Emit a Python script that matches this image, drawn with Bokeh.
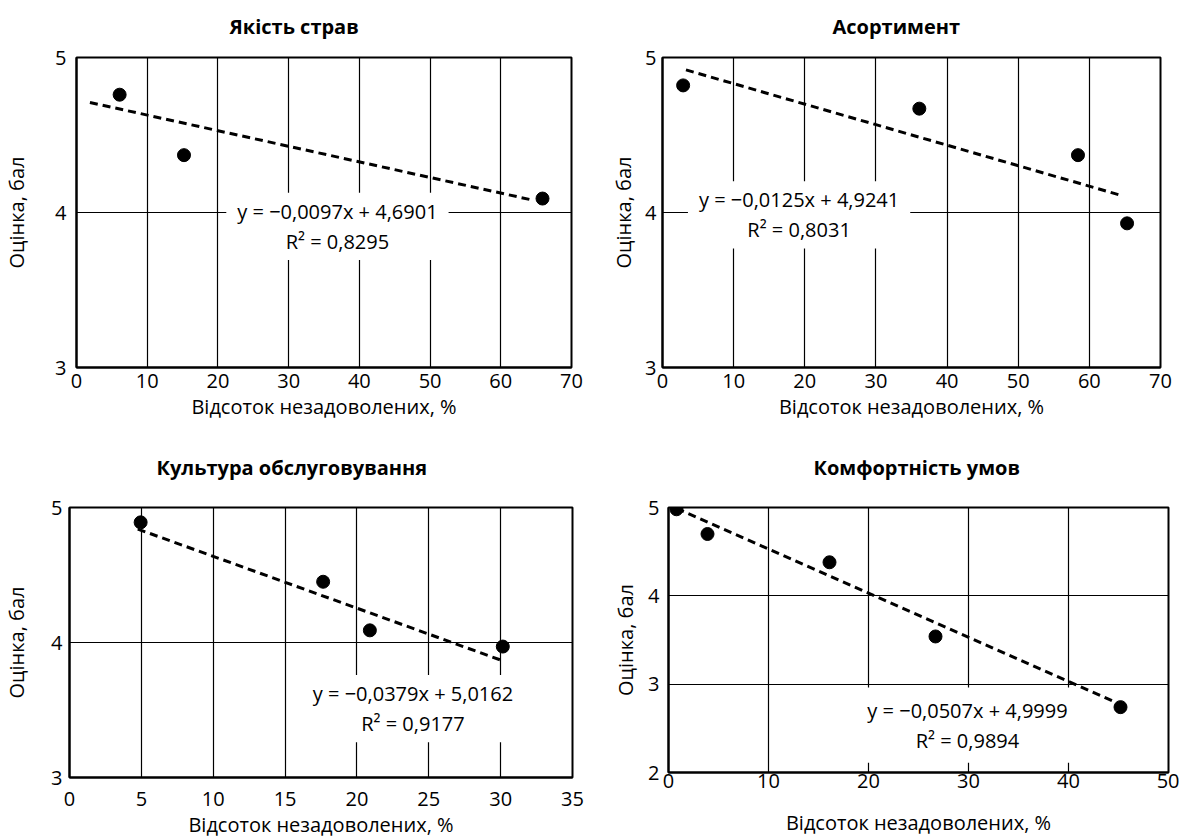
from bokeh.plotting import figure
from bokeh.layouts import row, column
from bokeh.models import Label, Range1d, FixedTicker
from bokeh.embed import file_html
from bokeh.resources import INLINE

FONT = "Open Sans"
x_label = "Відсоток незадоволених, %"
y_label = "Оцінка, бал"

titles = ["Якість страв", "Асортимент", "Культура обслуговування", "Комфортність умов"]

# Якість страв
q_x = [6.1, 15.2, 65.9]
q_y = [4.76, 4.37, 4.09]
q_trend_x = [1.9, 64.5]
q_trend_y = [4.71, 4.08]
q_eq = "y = −0,0097x + 4,6901\nR² = 0,8295"

# Асортимент
a_x = [2.9, 36.1, 58.4, 65.3]
a_y = [4.82, 4.67, 4.37, 3.93]
a_trend_x = [3.3, 64.5]
a_trend_y = [4.92, 4.11]
a_eq = "y = −0,0125x + 4,9241\nR² = 0,8031"

# Культура обслуговування
c_x = [4.95, 17.65, 20.9, 30.15]
c_y = [4.89, 4.45, 4.09, 3.97]
c_trend_x = [4.75, 30.0]
c_trend_y = [4.84, 3.87]
c_eq = "y = −0,0379x + 5,0162\nR² = 0,9177"

# Комфортність умов
k_x = [0.8, 3.9, 16.1, 26.7, 45.2]
k_y = [4.98, 4.70, 4.38, 3.54, 2.74]
k_trend_x = [0.8, 44.8]
k_trend_y = [4.99, 2.79]
k_eq = "y = −0,0507x + 4,9999\nR² = 0,9894"

x_ticks_70 = [0, 10, 20, 30, 40, 50, 60, 70]
x_ticks_35 = [0, 5, 10, 15, 20, 25, 30, 35]
x_ticks_50 = [0, 10, 20, 30, 40, 50]
y_ticks_3 = [3, 4, 5]
y_ticks_2 = [2, 3, 4, 5]


def make(title, title_off, title_pad, xs, ys, tx, ty, xmax, xticks, ymin, yticks,
         eq, eq_x, eq_y, width, height, bl, br, bt, bb,
         ytick_so, ylab_so, xtick_so, xlab_so, pad_h, pad_v):
    p = figure(width=width, height=height, output_backend="svg", toolbar_location=None,
               x_range=Range1d(0, xmax), y_range=Range1d(ymin, 5),
               min_border_left=bl, min_border_right=br, min_border_top=bt, min_border_bottom=bb)
    p.title.text = title
    p.title.text_font = FONT
    p.title.text_font_size = "20px"
    p.title.text_font_style = "bold"
    p.title.text_color = "black"
    p.title.align = "left"
    p.title.offset = title_off
    p.title.standoff = 0
    p.title.padding = dict(left=0, right=0, top=0, bottom=title_pad)

    p.outline_line_color = "black"
    p.outline_line_width = 2
    p.background_fill_color = "white"
    p.border_fill_color = "white"

    p.xaxis.ticker = FixedTicker(ticks=xticks)
    p.yaxis.ticker = FixedTicker(ticks=yticks)
    for ax in (p.xaxis[0], p.yaxis[0]):
        ax.axis_line_color = "black"
        ax.axis_line_width = 2
        ax.major_tick_in = 0
        ax.major_tick_out = 0
        ax.minor_tick_in = 0
        ax.minor_tick_out = 0
        ax.major_label_text_font = FONT
        ax.major_label_text_font_size = "20px"
        ax.major_label_text_color = "black"
        ax.axis_label_text_font = FONT
        ax.axis_label_text_font_size = "20px"
        ax.axis_label_text_font_style = "normal"
        ax.axis_label_text_color = "black"
    p.xaxis.axis_label = x_label
    p.yaxis.axis_label = y_label
    p.xaxis.major_label_standoff = xtick_so
    p.yaxis.major_label_standoff = ytick_so
    p.xaxis.axis_label_standoff = xlab_so
    p.yaxis.axis_label_standoff = ylab_so

    p.xgrid.ticker = FixedTicker(ticks=xticks)
    p.ygrid.ticker = FixedTicker(ticks=yticks)
    for g in (p.xgrid[0], p.ygrid[0]):
        g.grid_line_color = "black"
        g.grid_line_width = 1.2
        g.grid_line_alpha = 1

    p.line(tx, ty, line_color="black", line_width=3, line_dash="8 5")
    p.scatter(xs, ys, size=13, fill_color="black", line_color="black")

    lab = Label(x=eq_x, y=eq_y, text=eq, text_align="center", text_baseline="middle",
                text_font=FONT, text_font_size="20px", text_color="black",
                background_fill_color="white", text_line_height=1.12,
                padding=dict(left=pad_h, right=pad_h, top=pad_v, bottom=pad_v))
    p.add_layout(lab)
    return p


f1 = make(titles[0], 153, 18, q_x, q_y, q_trend_x, q_trend_y, 70, x_ticks_70, 3, y_ticks_3,
          q_eq, 36.9, 3.91, 598, 439, 73, 27, 57, 72, 10, 22, 6, 2, 11, 5)
f2 = make(titles[1], 170, 18, a_x, a_y, a_trend_x, a_trend_y, 70, x_ticks_70, 3, y_ticks_3,
          a_eq, 19.2, 3.985, 581, 439, 64, 19, 57, 72, 6, 5, 6, 2, 11, 5)
f3 = make(titles[2], 87, 27, c_x, c_y, c_trend_x, c_trend_y, 35, x_ticks_35, 3, y_ticks_3,
          c_eq, 23.9, 3.51, 598, 418, 66, 26, 68, 72, 7, 18, 14, 2, 11, 5)
f4 = make(titles[3], 145, 27, k_x, k_y, k_trend_x, k_trend_y, 50, x_ticks_50, 2, y_ticks_2,
          k_eq, 29.9, 2.536, 581, 413, 70, 11, 68, 80, 9, 6, 1, 18, 12, 9)

layout = column(row(f1, f2), row(f3, f4), width=1179, height=838,
                styles={"overflow": "hidden"})
open("out.html", "w").write(file_html(layout, INLINE))
